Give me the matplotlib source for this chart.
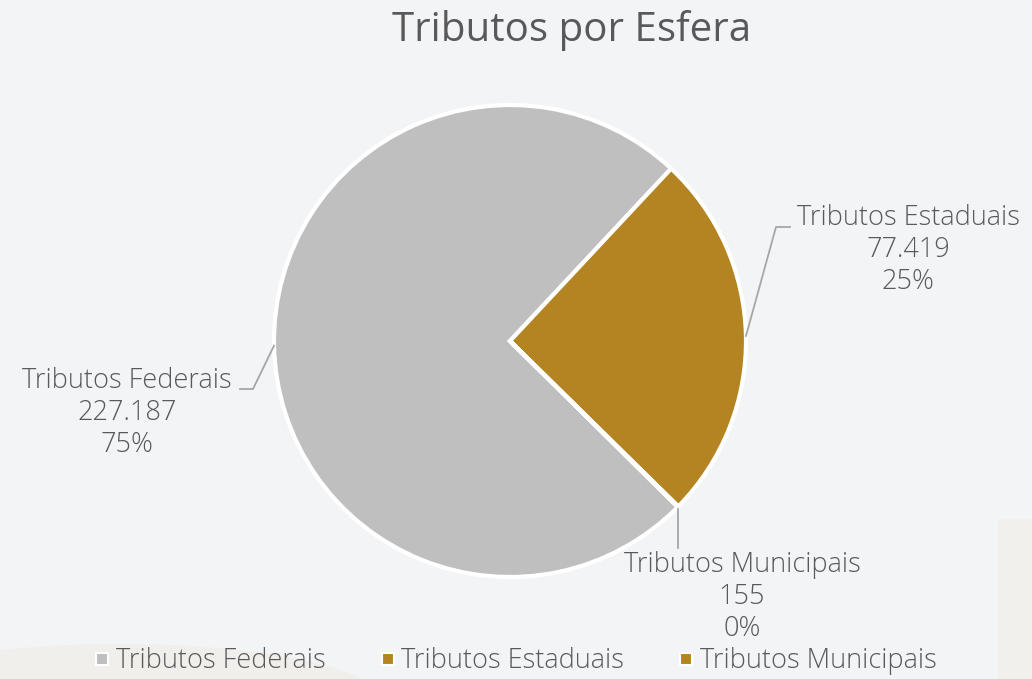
import numpy as np
import matplotlib.pyplot as plt
from matplotlib.lines import Line2D
from matplotlib.patches import Ellipse, Rectangle

# dados
categorias = ["Tributos Federais", "Tributos Estaduais", "Tributos Municipais"]
valores = [227187, 77419, 155]
cores = ["#bfbfbf", "#b38421", "#b38421"]

titulo = "Tributos por Esfera"
fonte = "Open Sans"
cor_texto = "#595959"
fundo = "#f3f4f6"


def fmt_milhar(v):
    # separador de milhar com ponto
    return "{:,}".format(v).replace(",", ".")


def main():
    fig = plt.figure(figsize=(10.32, 6.79), dpi=100)
    fig.patch.set_facecolor(fundo)
    ax = fig.add_axes([0, 0, 1, 1])

    # formas decorativas do fundo
    ax.add_patch(Ellipse((120, -20), 520, 110, facecolor="#f0efeb", edgecolor="none", zorder=0))
    ax.add_patch(Rectangle((998, 0), 40, 160, facecolor="#f1f0ec", edgecolor="none", zorder=0))

    cx, cy, r = 510, 338, 236
    start = -44.7
    wedges, _ = ax.pie(valores, colors=cores, startangle=start, counterclock=False,
                       center=(cx, cy), radius=r, frame=True,
                       wedgeprops=dict(edgecolor="white", linewidth=3))
    ax.set_xlim(0, 1032)
    ax.set_ylim(0, 679)
    ax.set_aspect("equal")
    ax.axis("off")

    total = sum(valores)
    # posicao (centro) das etiquetas e do cotovelo da linha
    pos_txt = [(127, 266), (908, 429), (742, 82)]
    cotovelo = [(253, 290), (776, 452), None]
    ang = start
    for i, v in enumerate(valores):
        frac = v / total
        meio = ang - frac * 180
        ang -= frac * 360
        ax_ = cx + r * np.cos(np.radians(meio))
        ay_ = cy + r * np.sin(np.radians(meio))
        tx, ty = pos_txt[i]
        txt = "{}\n{}\n{:.0f}%".format(categorias[i], fmt_milhar(v), frac * 100)
        ax.text(tx, ty, txt, ha="center", va="center", fontsize=19.5, family=fonte,
                weight="light", color=cor_texto, linespacing=1.2)
        if cotovelo[i] is not None:
            ex, ey = cotovelo[i]
            hx = 240 if i == 0 else 790
            ax.plot([ax_, ex, hx], [ay_, ey, ey], color="#a6a6a6", lw=1.3)
        else:
            ax.plot([ax_, ax_], [ay_ - 2, 131], color="#a6a6a6", lw=1.3)

    fig.text(0.554, 0.955, titulo, ha="center", va="center", fontsize=29,
             family=fonte, color=cor_texto)

    handles = [Line2D([0], [0], marker="s", linestyle="none", markersize=9,
                      markerfacecolor=c, markeredgecolor="white", markeredgewidth=1.5)
               for c in cores]
    fig.legend(handles, categorias, loc="center", bbox_to_anchor=(0.498, 0.026), ncol=3,
               frameon=False, prop=dict(family=fonte, size=19.5, weight="light"),
               labelcolor=cor_texto, handletextpad=0.1, columnspacing=1.9, handlelength=0.8,
               borderpad=0.1)

    fig.savefig("out.png", dpi=100, facecolor=fundo)


if __name__ == '__main__':
    main()
